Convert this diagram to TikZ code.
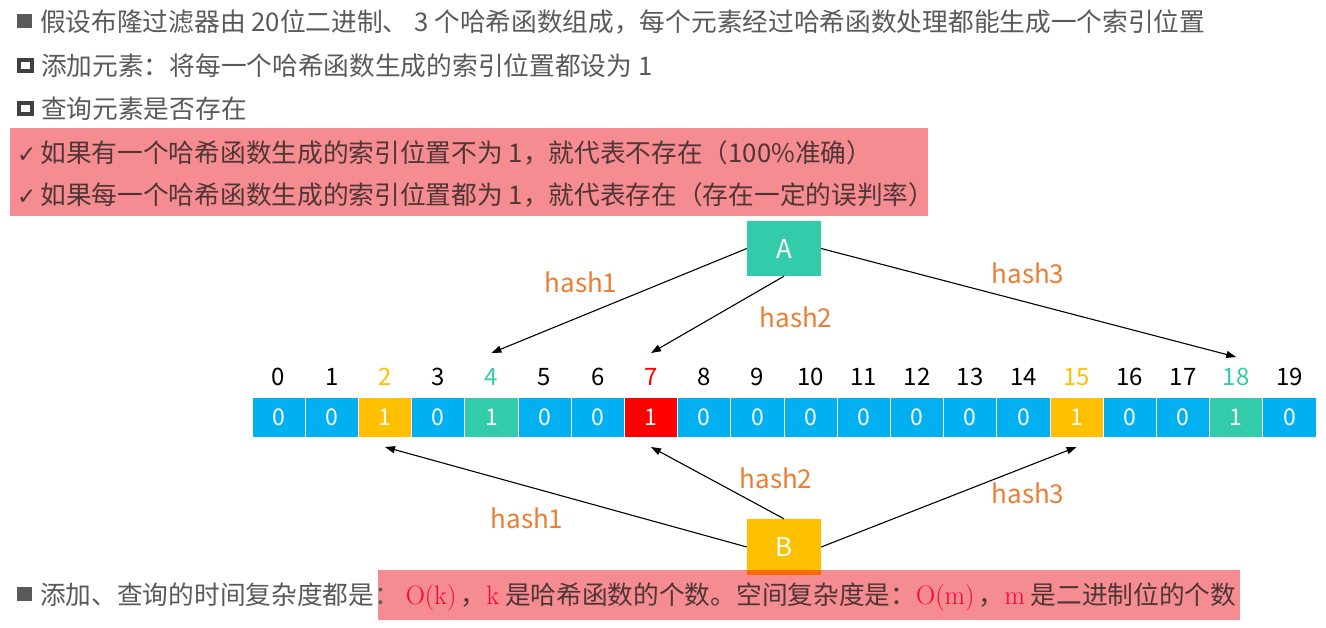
\documentclass[tikz,border=0pt]{standalone}
\usepackage{fontspec}
\usepackage{xcolor}
\usetikzlibrary{arrows.meta}
\newfontfamily\cjk{Noto Sans CJK SC}
\newfontfamily\symb{DejaVu Sans}
\definecolor{bitblue}{HTML}{00B0F0}
\definecolor{bityellow}{HTML}{FFC000}
\definecolor{bitteal}{HTML}{33CCAA}
\definecolor{bitred}{HTML}{FF0000}
\definecolor{hashorange}{HTML}{ED7D31}
\definecolor{textgray}{HTML}{595959}
\definecolor{boxtext}{HTML}{503535}
\definecolor{notered}{HTML}{EA0A15}
\definecolor{mathred}{HTML}{FF0033}
\newcommand{\solidsq}{\raisebox{3pt}{\rule{15pt}{14pt}}}
\newcommand{\hollowsq}{\raisebox{2pt}{\rlap{\color{darkgray}\rule{17pt}{15pt}}\hspace{4pt}\raisebox{4pt}{\color{white}\rule{9pt}{7pt}}\hspace{4pt}}}
\newcommand{\tick}{{\symb\fontsize{23}{26}\selectfont ✓}}
\newcommand{\bigO}[1]{{\color{mathred}\rmfamily\fontsize{26.5}{30}\selectfont #1}}

\begin{document}
\begin{tikzpicture}
  [x=1pt,y=-1pt,
   line/.style={anchor=base west,inner sep=0pt,font=\cjk\fontsize{25.7}{30}\selectfont},
   bit/.style={draw=white,line width=1pt,minimum width=53.2pt,minimum height=40pt,inner sep=0pt,
     text=white,font=\cjk\fontsize{23}{26}\selectfont},
   idx/.style={inner sep=0pt,font=\cjk\fontsize{24}{26}\selectfont},
   elem/.style={minimum width=74pt,minimum height=55pt,inner sep=0pt,text=white,
     font=\cjk\fontsize{26}{28}\selectfont},
   hashlbl/.style={text=hashorange,inner sep=0pt,font=\cjk\fontsize{26}{28}\selectfont},
   hasharrow/.style={line width=1.1pt,-{Triangle[length=10pt,width=7pt]}},
   notebox/.style={fill=notered,fill opacity=0.47}]

  \useasboundingbox (0,0) rectangle (1326,627);

  % text lines at the top
  \fill[notebox] (10,128) rectangle (928,216);
  \node[line,text=textgray] (l1) at (17,31) {\solidsq\hspace{8pt}假设布隆过滤器由 20位二进制、 3 个哈希函数组成，每个元素经过哈希函数处理都能生成一个索引位置};
  \node[line,text=textgray] (l2) at (17,75) {\hollowsq\hspace{7pt}添加元素：将每一个哈希函数生成的索引位置都设为 1};
  \node[line,text=textgray] (l3) at (17,118) {\hollowsq\hspace{7pt}查询元素是否存在};
  \node[line,text=boxtext] (l4) at (17,162) {\tick\hspace{4pt}如果有一个哈希函数生成的索引位置不为 1，就代表不存在（100\%准确）};
  \node[line,text=boxtext] (l5) at (17,204) {\tick\hspace{4pt}如果每一个哈希函数生成的索引位置都为 1，就代表存在（存在一定的误判率）};

  % bit array
  \foreach \i/\bitval/\col/\lab in {0/0/bitblue/black,1/0/bitblue/black,2/1/bityellow/bityellow,
      3/0/bitblue/black,4/1/bitteal/bitteal,5/0/bitblue/black,6/0/bitblue/black,7/1/bitred/bitred,
      8/0/bitblue/black,9/0/bitblue/black,10/0/bitblue/black,11/0/bitblue/black,12/0/bitblue/black,
      13/0/bitblue/black,14/0/bitblue/black,15/1/bityellow/bityellow,16/0/bitblue/black,
      17/0/bitblue/black,18/1/bitteal/bitteal,19/0/bitblue/black}
  {
    \node[bit,fill=\col] (c\i) at (278.6+53.2*\i,417) {\bitval};
    \node[idx,text=\lab] (i\i) at (278.6+53.2*\i,377) {\i};
  }

  % elements
  \node[elem,fill=bitteal] (A) at (784,248.5) {A};
  \node[elem,fill=bityellow,minimum height=56pt] (B) at (784,547) {B};

  \draw[hasharrow] (A.west) -- ([yshift=24pt]i4.center);
  \draw[hasharrow] (A.south) -- ([yshift=24pt]i7.center);
  \draw[hasharrow] (A.east) -- ([yshift=20pt]i18.center);
  \draw[hasharrow] (B.west) -- ([yshift=-30pt]c2.center);
  \draw[hasharrow] (B.north) -- ([yshift=-30pt]c7.center);
  \draw[hasharrow] (B.east) -- ([yshift=-30pt]c15.center);

  \node[hashlbl] (h1a) at (581,282) {hash1};
  \node[hashlbl] (h2a) at (796,317) {hash2};
  \node[hashlbl] (h3a) at (1028,273) {hash3};
  \node[hashlbl] (h2b) at (776,478) {hash2};
  \node[hashlbl] (h1b) at (527,518) {hash1};
  \node[hashlbl] (h3b) at (1028,493) {hash3};

  % complexity line
  \fill[notebox] (378,570) rectangle (1240,620);
  \node[line,text=textgray] (l6) at (17,604) {\solidsq\hspace{8pt}添加、查询的时间复杂度都是：{\color{boxtext}\ \bigO{O(k)}\,，\bigO{k} 是哈希函数的个数。空间复杂度是：\bigO{O(m)}\,，\bigO{m} 是二进制位的个数}};
\end{tikzpicture}
\end{document}
